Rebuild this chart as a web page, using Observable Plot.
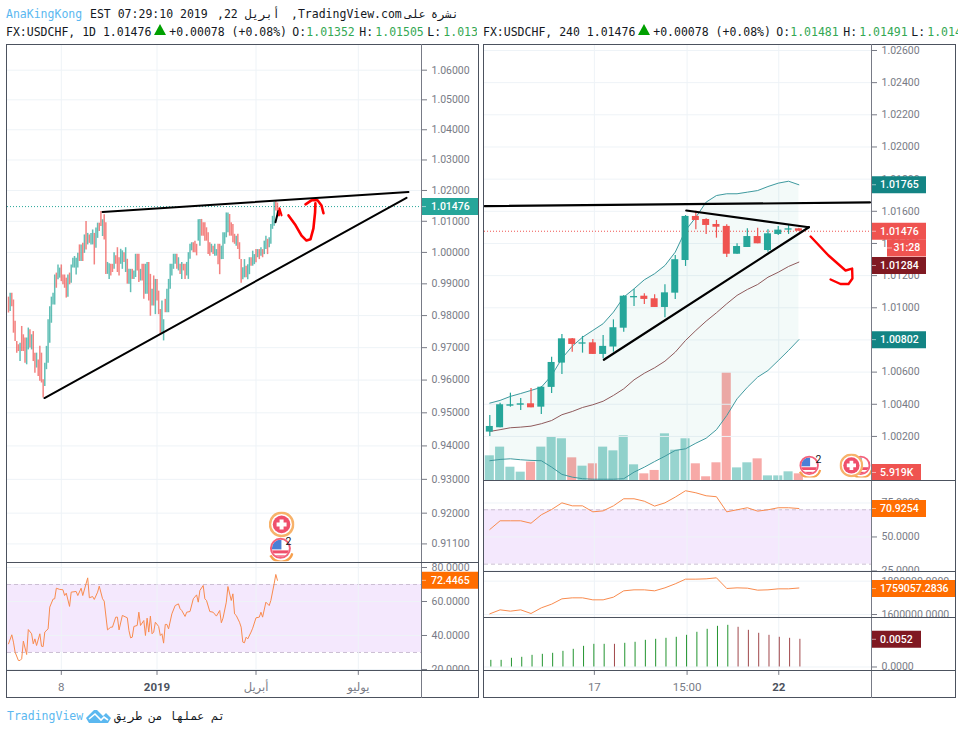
<!DOCTYPE html>
<html><head><meta charset="utf-8">
<script src="https://cdn.jsdelivr.net/npm/d3@7"></script>
<script src="https://cdn.jsdelivr.net/npm/@observablehq/plot@0.6"></script>
<style>
html,body{margin:0;padding:0;background:#fff}
#chart{position:relative;width:962px;height:734px;overflow:hidden;font-family:"DejaVu Sans Mono",monospace;font-size:11.5px;color:#131722}
#chart .t{position:absolute;white-space:pre;line-height:14px}
#chart .ln{position:absolute}
#chart svg{position:absolute}
</style></head><body><div id="chart"></div>
<script>
// ---------- daily chart (left) ----------
const dailyHigh=[.9858,.9870,.9870,.9849,.9782,.9719,.9709,.9714,.9766,.9740,
.9730,.9730,.9761,.9756,.9740,.9750,.9683,.9683,.9662,.9704,
.9683,.9601,.9652,.9704,.9787,.9828,.9858,.9870,.9928,.9934,
.9960,.9950,.9960,.9928,.9928,.9918,.9928,.9934,.9960,.9981,
.9987,.9981,.9997,1.0024,1.0024,1.0029,1.0056,1.0099,1.0061,1.0056,
1.0061,1.0072,1.0061,1.0078,1.0094,1.0094,1.0132,1.0105,1.0121,
1.0095,.9968,.9964,.9962,.9962,.9999,.9989,1.0015,.9983,1.0010,
1.0005,.9999,1.0015,.9978,.9946,.9946,.9946,.9941,.9994,.9994,
.9994,.9946,.9962,.9962,.9962,.9968,.9968,.9930,.9883,.9925,
.9914,.9914,.9877,.9819,.9846,.9787,.9851,.9883,.9914,.9962,
.9962,.9994,.9994,.9994,.9983,.9962,.9968,.9962,.9962,.9968,
.9999,1.0026,1.0031,1.0031,1.0036,1.0026,1.0105,
1.0106,1.0106,1.0095,1.0095,1.0079,1.0063,1.0031,1.0026,1.0020,1.0026,
1.0009,1.0026,1.0026,1.0020,1.0063,1.0063,1.0127,1.0127,1.0122,1.0095,
1.0090,1.0058,1.0052,1.0058,1.0031,.9977,.9951,.9977,.9956,.9961,
.9983,.9983,1.0004,.9993,1.0009,1.0009,1.0009,1.0015,1.0009,1.0036,
1.0052,1.0042,1.0047,1.0090,1.0116,1.0162,1.0165,1.0159];
const dailyLow=[.9808,.9813,.9828,.9745,.9719,.9683,.9688,.9657,.9688,.9688,
.9652,.9647,.9693,.9699,.9693,.9657,.9621,.9637,.9611,.9596,
.9591,.9545,.9580,.9632,.9652,.9714,.9776,.9833,.9833,.9886,
.9913,.9918,.9907,.9897,.9886,.9855,.9858,.9897,.9902,.9950,
.9950,.9928,.9950,.9971,.9971,.9971,.9997,1.0008,1.0024,1.0029,
1.0024,1.0024,.9960,1.0013,1.0045,1.0067,1.0083,1.0051,1.0040,
.9930,.9930,.9914,.9925,.9936,.9946,.9962,.9936,.9925,.9962,
.9946,.9968,.9936,.9899,.9899,.9872,.9914,.9914,.9920,.9941,
.9904,.9909,.9909,.9851,.9867,.9867,.9846,.9798,.9830,.9830,
.9803,.9846,.9803,.9740,.9745,.9721,.9809,.9809,.9809,.9883,
.9925,.9946,.9962,.9946,.9941,.9930,.9914,.9941,.9914,.9925,
.9914,.9978,1.0005,.9999,.9999,.9989,1.0036,
1.0020,1.0052,1.0052,1.0036,1.0036,.9993,.9988,.9999,.9993,.9988,
.9988,.9961,.9929,.9977,.9977,1.0026,1.0047,1.0063,1.0052,1.0052,
1.0031,1.0026,1.0020,1.0009,.9977,.9902,.9913,.9919,.9919,.9913,
.9929,.9956,.9956,.9961,.9967,.9983,.9977,.9988,.9983,.9993,
1.0009,.9993,1.0015,1.0026,1.0074,1.0084,1.0133,1.0122];
const dailyDir="RGRRRRRGRRRGGRGRRGRRRRGGGGGGGRGGRRRRGRGGGGGRGRGRGRGGRGGRRGR"+
"RGGRRGRRRGGRGRGGRGGRRGRRGGRRGRGRRRGGRGGGGGGRGRGRRGGGGRRRG"+
"GRRRRRRGRGGRRGGGGGRRRRGRRRGGRGGRGGRGRGRGGRGGGGRR";
const dailyRsiBar=[0,2,3,4,6,7,8,9,11,12,14,15,16,17,19,20,21,22,24,25,27,28,29,31,33,34,35,37,38,41,42,44,45,48,49,51,52,54,55,57,58,60,62,63,65,66,67,69,72,73,74,75,76,78,79,80,82,83,84,85,86,87,88,89,91,92,93,94,95,96,97,99,101,103,104,105,107,108,110,112,114,115,116,118,119,120,122,124,126,128,129,130,132,133,135,136,137,138,140,141,142,143,144,145,147,148,150,152,153,154,156,158,159,161,162,163];
const dailyRsi=[35.1,40.4,36.1,30.2,25.3,25.3,26.3,36.7,28.8,43.5,41,35.1,38,34.1,41,33.7,33.5,42,43.9,56.7,61.4,61.6,67.8,67.1,66.9,63.5,64.9,57.1,65.5,65.9,63.5,67.8,63.5,73.9,62.2,62.9,61.2,65.5,69,61.6,60.2,43.3,44.9,44.9,50.8,50.8,43.3,51.8,50.4,42.9,38.6,39,45.3,45.9,53.7,45.9,48.8,40,50.2,42,51.4,41,42,47.8,45.3,40,41,35.5,46.5,46.5,43.9,52.7,57.6,58.6,55.7,54.7,51.2,53.7,54.1,61.6,63.9,59.6,66.5,69.4,61.6,60.6,54.1,53.7,51.4,54.7,47.5,50.2,59.6,68.8,60.6,64.5,52.7,51.8,47.8,44.9,36.1,35.7,39,38,42,44.3,50.4,50.8,53.7,50.8,59.6,57.6,60.6,70.4,75.9,72.4465];
const dailyPriceTicks=[1.06,1.05,1.04,1.03,1.02,1.01,1,.99,.98,.97,.96,.95,.94,.93,.92,.911];
const dailyTimeBars=[32,90,150,212];
const dailyTimeLabels=["8","2019","أبريل","يوليو"];
const dailyTimeWeights=[400,700,400,400];
const dailyResistance=[[57,1.0130],[242.4,1.0195]];
const dailySupport=[[21.8,.9545],[241.2,1.0176]];
const dailyBlackStub=[[161.8,1.0097],[163.5,1.0133]];
const dailyRedStroke=[[169.7,1.0119],[174,1.0087],[177.6,1.0054],[180.6,1.0038],[183,1.0042],[184.8,1.0077],[185.8,1.0129],[186,1.0158]];
const dailyRedArc=[[180,1.0155],[183.6,1.0168],[187.3,1.0168],[189.7,1.0151],[190.9,1.0126]];
const dailyRedTip=[[163.9,1.0119],[164.2,1.0142],[165.5,1.0119]];

// ---------- 240 chart (right) ----------
const h4Open=[1.00227,1.00254,1.00388,1.00394,1.00403,1.00382,1.00505,1.00656,1.00807,1.00774,1.00782,1.00710,1.00756,1.00873,1.01062,1.01072,1.01056,1.01002,1.01091,1.01294,1.01568,1.01549,1.01518,1.01506,1.01333,1.01375,1.01443,1.01356,1.01456,1.01483,1.01491];
const h4High=[1.00330,1.00407,1.00469,1.00436,1.00498,1.00511,1.00693,1.00834,1.00809,1.00822,1.00803,1.00828,1.00925,1.01076,1.01114,1.01087,1.01081,1.01143,1.01325,1.01574,1.01601,1.01553,1.01543,1.01516,1.01398,1.01491,1.01495,1.01485,1.01506,1.01518,1.01495];
const h4Low=[1.00200,1.00254,1.00382,1.00362,1.00378,1.00337,1.00467,1.00585,1.00724,1.00718,1.00710,1.00683,1.00724,1.00848,1.01008,1.01021,1.01002,1.00938,1.01052,1.01257,1.01485,1.01456,1.01433,1.01313,1.01333,1.01375,1.01398,1.01346,1.01450,1.01456,1.01476];
const h4Close=[1.00262,1.00397,1.00397,1.00403,1.00378,1.00506,1.00660,1.00807,1.00772,1.00782,1.00710,1.00760,1.00876,1.01072,1.01070,1.01052,1.01002,1.01093,1.01299,1.01568,1.01543,1.01512,1.01501,1.01333,1.01381,1.01443,1.01398,1.01460,1.01483,1.01491,1.01476];
const h4Upper=[1.00407,1.00424,1.00449,1.00467,1.00486,1.00506,1.00579,1.00685,1.00761,1.00817,1.00859,1.00901,1.00973,1.01066,1.01118,1.01174,1.01212,1.01263,1.01346,1.01481,1.01563,1.01657,1.01698,1.01709,1.01709,1.01719,1.01729,1.01754,1.01775,1.01787,1.01765];
const h4Basis=[1.00231,1.00242,1.00254,1.00258,1.00264,1.00279,1.00299,1.00335,1.00355,1.0038,1.00397,1.00419,1.00455,1.00496,1.00552,1.00593,1.00627,1.00668,1.00724,1.00797,1.00859,1.00917,1.00969,1.01025,1.01077,1.01114,1.01145,1.0119,1.01221,1.01257,1.01284];
const h4Lower=[1.00049,1.00057,1.00061,1.00055,1.00051,1.00049,1.00009,.99964,.99947,.99937,.99934,.99934,.99934,.99937,.99978,1.00009,1.00044,1.00077,1.00113,1.00123,1.00158,1.00189,1.00242,1.0033,1.00434,1.00506,1.00569,1.0061,1.00672,1.00735,1.00802];
const h4VolumeK=[21.9,29.6,11.8,7.4,16.3,29.6,38.4,37,20.1,12.7,14.8,29.6,26.3,39.6,13.9,5.9,8.9,41.4,26.9,37,14.8,3.3,15.7,95.5,11.2,15.7,19.2,4.1,4.1,7.7,5.919];
const h4VolumeDir="GGGGRGGGRGRGGGGRRGGGRRRRGGRGGGR";
const h4Rsi=[55.5,61.9,61.9,61.9,60.1,66.3,70.2,75.1,72.9,72.9,68.5,69.2,72.9,78.1,78.1,76.3,72.7,75.1,79.3,84,82.5,80.3,79.6,68.5,70,71.5,69,70,71.5,71.5,70.9254];
const h4Obv=[1604000,1628000,1620000,1628000,1606000,1640000,1662000,1694000,1700000,1700000,1688000,1688000,1704000,1742000,1748000,1748000,1742000,1760000,1784000,1812000,1812000,1814000,1820000,1756000,1760000,1758000,1746000,1748000,1754000,1754000,1759057.2836];
const h4Hist=[.00125,.00125,.00163,.00182,.00219,.00238,.00257,.00294,.00332,.00388,.00426,.00426,.00426,.00445,.00464,.00501,.0052,.00539,.00558,.00595,.00652,.00708,.00764,.00783,.00746,.00689,.00633,.00595,.00558,.00539,.0052];
const h4HistDir="GGGGGGGGGGGGRGGGGGGGGGGGRRRRRRR";
const h4PriceTicks=[1.026,1.024,1.022,1.02,1.018,1.016,1.014,1.012,1.01,1.008,1.006,1.004,1.002];
const h4TimeBars=[10.15,19.15,28.05];
const h4TimeLabels=["17","15:00","22"];
const h4TimeWeights=[400,400,700];
const h4Resistance=[[-.5,1.01632],[36.9,1.01655]];
const h4Falling=[[19.07,1.01605],[30.97,1.01501]];
const h4Rising=[[11.07,1.00677],[30.97,1.01501]];
const h4RedArrow=[[31.14,1.01443],[32.88,1.01325],[34.53,1.01232],[35.17,1.01244],[35.2,1.01182],[34.82,1.01148],[34.04,1.01148],[33.08,1.01176]];

// ---------- colours ----------
const UP="#26a69a",DOWN="#ef5350",GRID="#eef3f7",AXIS="#787b86",FRAME="#4c525e",
      ORANGE="#ff6d00",RSI_LINE="#f98b4e",BAND="#f4e8fd",BAND_LINE="#cbbfd3",TEAL_D="#138484",RED_D="#801922";

const root=document.getElementById("chart");
const priceFmt=d3.format(".5f"), fourFmt=d3.format(".4f");

function pane(o){
  const xr=o.xDomain, perPx=(xr[1]-xr[0])/(o.W-o.R);
  const X=px=>xr[1]+px*perPx;
  const tagMarks=(o.tags||[]).flatMap(t=>[
    Plot.ruleY([t.value],{x1:()=>X(t.from||0),x2:()=>X(t.to),stroke:t.color,strokeWidth:17}),
    Plot.ruleY([t.value],{x1:()=>X(t.from||0),x2:()=>X((t.from||0)+5),stroke:"#ffffff",strokeOpacity:.55}),
    Plot.text([t.value],{x:()=>X((t.from||0)+(t.pad||9.5)),y:d=>d,text:()=>t.label,textAnchor:"start",fill:"#fff",fontSize:10.5,fontWeight:500})
  ]);
  const svg=Plot.plot({
    width:o.W,height:o.H,marginLeft:0,marginRight:o.R,marginTop:0,marginBottom:0,
    x:{domain:xr,axis:null,label:null},
    y:Object.assign({axis:null,label:null},o.y),
    style:{fontFamily:"Roboto,sans-serif",fontSize:"10.5px",background:"transparent",overflow:"hidden",maxWidth:"none"},
    marks:[...o.marks(X),...tagMarks]
  });
  svg.style.left=o.left+"px";svg.style.top=o.top+"px";
  root.appendChild(svg);
  return svg;
}
const axisR=(ticks,fmt)=>Plot.axisY(ticks,{anchor:"right",tickSize:5,tickPadding:5,tickFormat:fmt,color:AXIS,label:null});
const gridV=bars=>Plot.ruleX(bars,{stroke:GRID});
const gridH=ticks=>Plot.ruleY(ticks,{stroke:GRID});
const seg=(pts,stroke,sw)=>Plot.line(pts,{x:d=>d[0],y:d=>d[1],stroke,strokeWidth:sw,strokeLinecap:"round",strokeLinejoin:"round"});
const linePts=(a)=>a.map((v,i)=>[i,v]);
function rsiBase(xd){return [
  Plot.rect([0],{x1:()=>xd[0],x2:()=>xd[1],y1:()=>30,y2:()=>70,fill:BAND}),
  Plot.ruleY([30,70],{stroke:BAND_LINE,strokeDasharray:"4 3"})
];}
function icon(kind){
  const flag=kind==="us"
   ?`<defs><clipPath id="c"><circle cx="13" cy="13" r="8.5"/></clipPath></defs><g clip-path="url(#c)"><rect width="26" height="26" fill="#fff"/><rect y="15" width="26" height="3" fill="#ef4f6b"/><rect y="20" width="26" height="4" fill="#ef4f6b"/><rect x="4" y="4" width="10" height="10" fill="#4a7fd6"/></g><circle cx="13" cy="13" r="9.5" fill="none" stroke="#f4607a" stroke-width="2"/><path d="M3 20A12 12 0 0 0 25 18" fill="none" stroke="#f6a04d" stroke-width="2.4"/>`
   :`<circle cx="13" cy="13" r="11.6" fill="#fff" stroke="#f7b26a" stroke-width="2.4"/><circle cx="13" cy="13" r="8.8" fill="#ef4f6b"/><path d="M11 8h4v3h3v4h-3v3h-4v-3H8v-4h3z" fill="#fff"/>`;
  return "data:image/svg+xml,"+encodeURIComponent(`<svg xmlns="http://www.w3.org/2000/svg" width="26" height="26" viewBox="0 0 26 26">${flag}</svg>`);
}

// ---------- LEFT ----------
const LX=[-.606,250.3], LW=471, LR=57;
const dailyRows=dailyHigh.map((h,i)=>({i,h,l:dailyLow[i],d:dailyDir[i]}));
pane({left:7,top:45,W:LW,H:517,R:LR,xDomain:LX,
  y:{type:"log",domain:[.9056,1.0684]},
  tags:[{value:1.01476,label:"1.01476",color:UP,to:58}],
  marks:()=>[
    gridH(dailyPriceTicks),gridV(dailyTimeBars),
    Plot.ruleY([1.01476],{stroke:UP,strokeDasharray:"1 2"}),
    Plot.ruleX(dailyRows.filter(r=>r.d==="G"),{x:"i",y1:"l",y2:"h",stroke:UP,strokeWidth:1.5,strokeOpacity:.72}),
    Plot.ruleX(dailyRows.filter(r=>r.d==="R"),{x:"i",y1:"l",y2:"h",stroke:DOWN,strokeWidth:1.5,strokeOpacity:.72}),
    seg(dailyResistance,"#000",2),seg(dailySupport,"#000",2),seg(dailyBlackStub,"#000",2),
    seg(dailyRedStroke,"#f00",2.6),seg(dailyRedArc,"#f00",2.6),seg(dailyRedTip,"#f00",2),
    Plot.image([{x:165.5,y:.9167,k:"ch"},{x:164.8,y:.9097,k:"us"}],{x:"x",y:"y",src:d=>icon(d.k),width:26,height:26}),
    Plot.text([{x:169.7,y:.9118}],{x:"x",y:"y",text:()=>"2",fill:"#131722",fontSize:10.5}),
    axisR(dailyPriceTicks,priceFmt)
  ]});
const dailyRsiRows=dailyRsiBar.map((b,i)=>[b,dailyRsi[i]]);
pane({left:7,top:563,W:LW,H:107,R:LR,xDomain:LX,
  y:{domain:[19.4,82.35]},
  tags:[{value:72.4465,label:"72.4465",color:ORANGE,to:58}],
  marks:()=>[
    ...rsiBase(LX),gridH([20,40,60,80]),gridV(dailyTimeBars),
    seg(dailyRsiRows,RSI_LINE,1),
    axisR([20,40,60,80],fourFmt)
  ]});
function timePane(left,W,R,xd,bars,labels,weights){
  pane({left,top:671,W,H:26,R,xDomain:xd,y:{domain:[0,1]},marks:()=>[
    Plot.ruleX(bars,{y1:()=>1,y2:()=>.85,stroke:AXIS}),
    ...bars.map((b,i)=>Plot.text([b],{x:d=>d,y:()=>.4,text:()=>labels[i],fill:weights[i]>400?"#4c525e":AXIS,fontWeight:weights[i],fontSize:11.5,fontFamily:labels[i].match(/[\u0600-\u06ff]/)?"DejaVu Sans":"Roboto"}))
  ]});
}
timePane(7,LW,LR,LX,dailyTimeBars,dailyTimeLabels,dailyTimeWeights);

// ---------- RIGHT ----------
const RX=[-.515,37.05], RW=471, RR=84;
const h4Rows=h4Open.map((o,i)=>({i,o,h:h4High[i],l:h4Low[i],c:h4Close[i],col:h4Close[i]>=o?UP:DOWN}));
const volRows=h4VolumeK.map((v,i)=>({i,v,d:h4VolumeDir[i]}));
// volume sits behind the price pane on its own scale
pane({left:484,top:372,W:RW,H:108,R:RR,xDomain:RX,y:{domain:[0,95.8]},marks:()=>[
  Plot.rectY(volRows.filter(r=>r.d==="G"),{x1:d=>d.i-.44,x2:d=>d.i+.44,y:"v",fill:UP,fillOpacity:.48}),
  Plot.rectY(volRows.filter(r=>r.d==="R"),{x1:d=>d.i-.44,x2:d=>d.i+.44,y:"v",fill:DOWN,fillOpacity:.5})
]});
const bandRows=h4Upper.map((u,i)=>({i,u,l:h4Lower[i],b:h4Basis[i]}));
pane({left:484,top:45,W:RW,H:435,R:RR,xDomain:RX,
  y:{domain:[.99926,1.02631]},
  tags:[
    {value:1.01765,label:"1.01765",color:TEAL_D,to:55,pad:8.5},
    {value:1.01476,label:"1.01476",color:DOWN,to:55,pad:8.5},
    {value:1.01372,label:"31:28",color:DOWN,from:16,to:55,pad:6},
    {value:1.01263,label:"1.01284",color:RED_D,to:55,pad:8.5},
    {value:1.00802,label:"1.00802",color:TEAL_D,to:55,pad:8.5},
    {value:.99976,label:"5.919K",color:DOWN,to:50,pad:8.5}
  ],
  marks:()=>[
    gridH(h4PriceTicks),gridV(h4TimeBars),
    Plot.areaY(bandRows,{x:"i",y1:"l",y2:"u",fill:UP,fillOpacity:.055}),
    Plot.ruleY([1.01476],{stroke:DOWN,strokeDasharray:"1 2"}),
    Plot.line(bandRows,{x:"i",y:"u",stroke:"#3f9a9f",strokeWidth:1}),
    Plot.line(bandRows,{x:"i",y:"l",stroke:"#3f9a9f",strokeWidth:1}),
    Plot.line(bandRows,{x:"i",y:"b",stroke:"#8f5a5c",strokeWidth:1}),
    Plot.ruleX(h4Rows.filter(r=>r.col===UP),{x:"i",y1:"l",y2:"h",stroke:UP,strokeWidth:1.2}),
    Plot.ruleX(h4Rows.filter(r=>r.col===DOWN),{x:"i",y1:"l",y2:"h",stroke:DOWN,strokeWidth:1.2}),
    Plot.rect(h4Rows.filter(r=>r.col===UP),{x1:d=>d.i-.34,x2:d=>d.i+.34,y1:"o",y2:"c",fill:UP}),
    Plot.rect(h4Rows.filter(r=>r.col===DOWN),{x1:d=>d.i-.34,x2:d=>d.i+.34,y1:"o",y2:"c",fill:DOWN}),
    seg(h4Resistance,"#000",2.2),seg(h4Falling,"#000",2.2),seg(h4Rising,"#000",2.2),
    seg(h4RedArrow,"#f00",2.4),
    Plot.image([{x:36,k:"us"},{x:35.1,k:"ch"},{x:31,k:"us"}],{x:"x",y:()=>1.0002,src:d=>icon(d.k),width:24,height:24}),
    Plot.text([{x:31.9,y:1.00057}],{x:"x",y:"y",text:()=>"2",fill:"#131722",fontSize:10.5}),
    axisR(h4PriceTicks,priceFmt)
  ]});
pane({left:484,top:481,W:RW,H:90,R:RR,xDomain:RX,
  y:{domain:[24.6,90.8]},
  tags:[{value:70.9254,label:"70.9254",color:ORANGE,to:55,pad:8.5}],
  marks:()=>[
    ...rsiBase(RX),gridH([25,50,75]),gridV(h4TimeBars),
    seg(linePts(h4Rsi),RSI_LINE,1),
    axisR([25,50,75],fourFmt)
  ]});
pane({left:484,top:572,W:RW,H:45,R:RR,xDomain:RX,
  y:{domain:[1582000,1852000]},
  tags:[{value:1755500,label:"1759057.2836",color:ORANGE,to:84,pad:8.5}],
  marks:()=>[
    gridH([1600000,1800000]),gridV(h4TimeBars),
    seg(linePts(h4Obv),RSI_LINE,1),
    axisR([1600000,1800000],fourFmt)
  ]});
const histRows=h4Hist.map((v,i)=>({i,v,d:h4HistDir[i]}));
pane({left:484,top:618,W:RW,H:52,R:RR,xDomain:RX,
  y:{domain:[-.00066,.00911]},
  tags:[{value:.0052,label:"0.0052",color:RED_D,to:50,pad:8.5}],
  marks:()=>[
    gridH([0]),gridV(h4TimeBars),
    Plot.ruleX(histRows.filter(r=>r.d==="G"),{x:d=>d.i+.1,y1:()=>0,y2:"v",stroke:"#22942f",strokeWidth:1}),
    Plot.ruleX(histRows.filter(r=>r.d==="R"),{x:d=>d.i+.1,y1:()=>0,y2:"v",stroke:"#a0474a",strokeWidth:1}),
    axisR([0],fourFmt)
  ]});
timePane(484,RW,RR,RX,h4TimeBars,h4TimeLabels,h4TimeWeights);

// ---------- frame ----------
const line=(x,y,w,h,c)=>{const d=document.createElement("div");d.className="ln";
  d.style.cssText=`left:${x}px;top:${y}px;width:${w}px;height:${h}px;background:${c}`;root.appendChild(d);};
[[6,478],[483,955]].forEach(([a,b])=>{
  line(a,44,b-a+1,1,FRAME);line(a,697,b-a+1,1,FRAME);line(a,44,1,654,FRAME);line(b,44,1,654,FRAME);
});
line(421,44,1,654,AXIS);line(871,44,1,654,AXIS);
line(6,562,472,1,FRAME);line(6,670,472,1,FRAME);
[480,571,617,670].forEach(y=>line(483,y,472,1,FRAME));

// ---------- header & footer ----------
const GREEN="#34a853",BLUE="#5bb8f0";
const txt=(x,y,s,c,extra)=>{const d=document.createElement("div");d.className="t";
  d.textContent=s;d.style.left=x+"px";d.style.top=y+"px";if(c)d.style.color=c;
  if(extra)Object.assign(d.style,extra);root.appendChild(d);return d;};
txt(6,7,"AnaKingKong",BLUE);
txt(90,7,"EST 07:29:10 2019");
txt(217,7,",22");
txt(245,7,"أبريل");
txt(291,7,",TradingView.com");
txt(405,7,"على");
txt(431,7,"نشرة");
function legend(x,tf,vals){
  const s=`FX:USDCHF, ${tf} 1.01476`;
  txt(x,25,s);
  const w=s.length*6.92;
  const tx=x+w+3;
  const sv=document.createElementNS("http://www.w3.org/2000/svg","svg");
  sv.setAttribute("width",12);sv.setAttribute("height",11);
  sv.style.left=tx+"px";sv.style.top="24px";
  sv.innerHTML='<polygon points="6,0 12,11 0,11" fill="#00a000"/>';
  root.appendChild(sv);
  const c=tx+15;
  txt(c,25,"+0.00078 (+0.08%)");
  const o=c+123;
  txt(o,25,"O:");txt(o+14,25,vals[0],GREEN);
  txt(o+67,25,"H:");txt(o+83,25,vals[1],GREEN);
  txt(o+135,25,"L:");
  const l=txt(o+151,25,vals[2],GREEN);
  l.style.width=(vals[3])+"px";l.style.overflow="hidden";
}
legend(6,"1D",["1.01352","1.01505","1.01341",34]);
legend(483,"240",["1.01481","1.01491","1.01441",31]);
txt(7,709,"TradingView",BLUE,{fontSize:11.5});
const logo=document.createElementNS("http://www.w3.org/2000/svg","svg");
logo.setAttribute("width",25);logo.setAttribute("height",15);
logo.style.left="86px";logo.style.top="708px";
logo.innerHTML='<path d="M0 10 8 2h3l6 6 3-3 5 5-3 5H3z" fill="#5bb8f0"/><path d="M3 11 9 6l6 6 3-3 4 3" fill="none" stroke="#fff" stroke-width="1.6"/>';
root.appendChild(logo);
txt(113,709,"تم عملها من طريق",null,{width:"112px",textAlign:"justify",direction:"rtl",letterSpacing:"0"});
</script></body></html>
